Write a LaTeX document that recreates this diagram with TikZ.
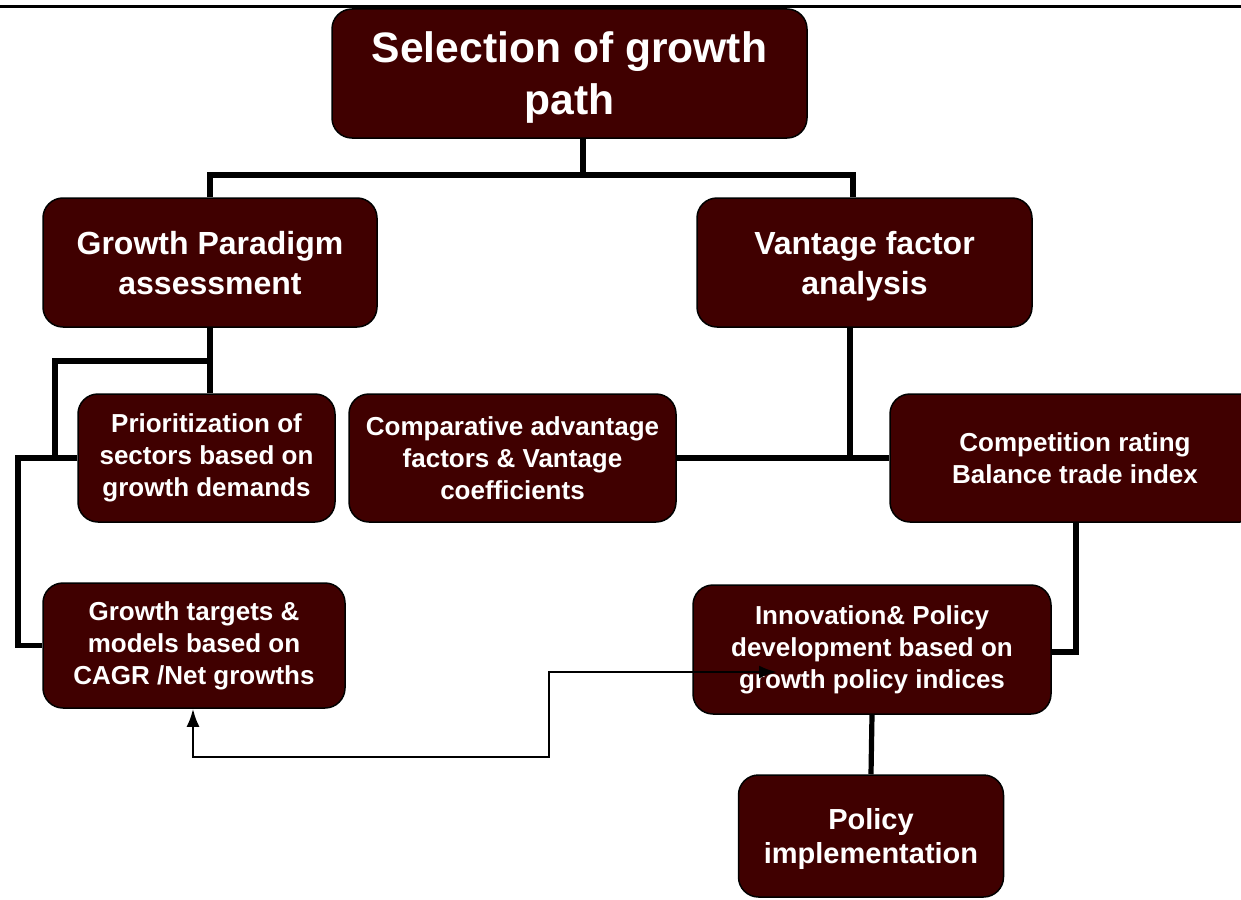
\documentclass[tikz,border=0pt]{standalone}
\usepackage{fontspec}
\setmainfont{Liberation Sans}
\usepackage{tikz}
\usetikzlibrary{positioning,arrows.meta}
\definecolor{maroon}{RGB}{64,0,0}

\begin{document}
\begin{tikzpicture}[
    x=0.5pt,y=-0.5pt,
    box/.style={draw=black,line width=0.75pt,fill=maroon,rounded corners=10pt,
                text=white,align=center,inner sep=2pt},
    big/.style={font=\fontsize{21.3}{26}\selectfont\bfseries,text depth=0pt},
    mid/.style={font=\fontsize{16}{20}\selectfont\bfseries,text depth=0pt},
    small/.style={font=\fontsize{13}{16}\selectfont\bfseries},
    link/.style={line width=2.6pt},
    arr/.style={{Latex[length=9pt,width=6.5pt]}-{Latex[length=9pt,width=6.5pt]},line width=1.3pt},
  ]
    \useasboundingbox (0,0) rectangle (1241,899);
    \clip (0,0) rectangle (1241,899);

    \node[box,big,minimum width=237.5pt,minimum height=64.5pt] (SG) at (569.5,73.5)
      {Selection of growth\\ path};
    \node[box,mid,minimum width=167pt,minimum height=64.5pt] (GP) at (210,262.5)
      {Growth Paradigm\\ assessment};
    \node[box,mid,minimum width=167.5pt,minimum height=64.5pt] (VF) at (864.5,262.5)
      {Vantage factor\\ analysis};
    \node[box,small,minimum width=128.5pt,minimum height=64pt] (PR) at (206.5,458)
      {Prioritization of\\ sectors based on\\ growth demands};
    \node[box,small,minimum width=163.5pt,minimum height=64pt] (CA) at (512.5,458)
      {Comparative advantage\\ factors \& Vantage\\ coefficients};
    \node[box,small,minimum width=185pt,minimum height=64pt] (CR) at (1075,458)
      {Competition rating\\ Balance trade index};
    \node[box,small,minimum width=151pt,minimum height=62.5pt] (GT) at (194,645.5)
      {Growth targets \&\\ models based on\\ CAGR /Net growths};
    \node[box,small,minimum width=179pt,minimum height=64.5pt] (IP) at (872,649.5)
      {Innovation\& Policy\\ development based on\\ growth policy indices};
    \node[box,font=\fontsize{14.5}{17}\selectfont\bfseries,text depth=0pt,
          minimum width=132.5pt,minimum height=61pt] (PI) at (871,836)
      {Policy\\ implementation};

    \coordinate (J1) at (583,175);
    \coordinate (J2) at (210,361);
    \coordinate (L1) at (55,361);
    \coordinate (L2) at (18,458);
    \coordinate (J3) at (850,459);
    \coordinate (J4) at (1076,652);
    \coordinate (A1) at (193,757);
    \coordinate (A2) at (549,757);
    \coordinate (A3) at (549,672);
    \coordinate (A4) at (777,672);

    \draw[line width=1.5pt] (0,7) -- (1241,7);

    \draw[link] (J1 |- SG.south) -- (J1);
    \draw[link] (GP.north) |- (J1) -| ([xshift=-5.75pt]VF.north);
    \draw[link] (GP.south) -- (GP.south |- PR.north);
    \draw[link] (J2) -- (L1) |- (PR.west);
    \draw[link] (PR.west) -- (L2) |- (GT.west);
    \draw[link] (J3 |- VF.south) -- (J3);
    \draw[link] (CA.east) -- (CR.west);
    \draw[link] (CR.south -| J4) -- (J4) -- (J4 -| IP.east);
    \draw[link] (IP.south) -- (PI.north);
    \draw[arr] (A4) -- (A3) -- (A2) -- (A1) -- (A1 |- GT.south);
  \end{tikzpicture}
\end{document}
